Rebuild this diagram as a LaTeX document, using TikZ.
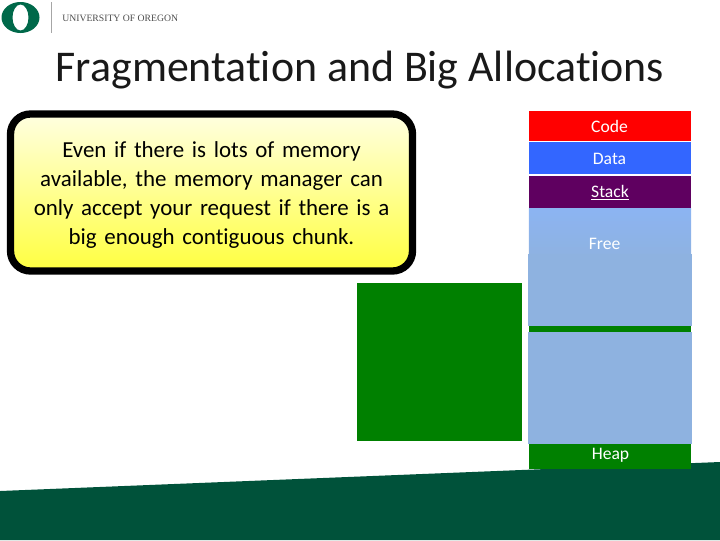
\documentclass[tikz,border=0pt]{standalone}
\usepackage{fontspec}
\setmainfont{Carlito}[Ligatures=NoCommon]
\newfontfamily\logofont{Liberation Serif}
\usepackage{xcolor}
\definecolor{oregongreen}{HTML}{00523A}
\definecolor{logogreen}{HTML}{00694A}
\definecolor{heapgreen}{HTML}{008000}
\definecolor{freeblue}{HTML}{8EB2E0}
\definecolor{freetop}{HTML}{8CB4F2}
\definecolor{codered}{HTML}{FF0000}
\definecolor{datablue}{HTML}{3366FF}
\definecolor{stackpurple}{HTML}{5F0060}
\usetikzlibrary{calc}
\tikzset{
  segment/.style={minimum width=4.05cm, inner sep=0pt, text=white, font=\fontsize{12.5}{14}\selectfont},
  seglabel/.style={text=white, inner sep=0pt, font=\fontsize{12.5}{14}\selectfont},
  freebox/.style={fill=freeblue, minimum width=4.1cm, inner sep=0pt},
}

\begin{document}
\begin{tikzpicture}[x=0.025cm, y=-0.025cm]
  \useasboundingbox (0,0) rectangle (720,540);
  % ------- logo -------
  \fill[logogreen, even odd rule] (20.5,17.5) ellipse (19 and 15.5) (20.5,17.5) ellipse (8 and 13);
  \draw[black!35, line width=0.5pt] (51.5,2) -- (51.5,33);
  \node[anchor=west, inner sep=0pt, text=black!70, font=\logofont\fontsize{6.9}{8}\selectfont] (logotext) at (62,18) {UNIVERSITY OF OREGON};
  % ------- title -------
  \node[inner sep=0pt, font=\fontsize{31.2}{34}\selectfont, text=black!90] (title) at (360,70) {Fragmentation and Big Allocations};
  % ------- bottom band -------
  \fill[oregongreen] (0,491) -- (720,462) -- (720,540) -- (0,540) -- cycle;
  % ------- callout -------
  \draw[black, line width=5.2pt, rounded corners=0.5cm, top color=yellow!12, bottom color=yellow!75] (10.5,114) rectangle (412.5,271);
  \node[align=center, inner sep=0pt, text width=9.8cm, font=\fontsize{16.3}{20.6}\selectfont] (callout) at (211.5,195)
    {Even if there is lots of memory\\ available, the memory manager can\\ only accept your request if there is a\\ big enough contiguous chunk.};
  % ------- requested chunk -------
  \node[fill=heapgreen, inner sep=0pt, minimum width=4.125cm, minimum height=3.95cm] (chunk) at (439.5,362) {};
  % ------- memory layout -------
  \node[segment, fill=codered, minimum height=0.75cm] (code) at (610,126) {};
  \node[seglabel] (codelabel) at (609.5,126.5) {Code};
  \node[segment, fill=datablue, minimum height=0.8cm] (data) at (610,158) {};
  \node[seglabel] (datalabel) at (609.5,159) {Data};
  \node[segment, fill=stackpurple, minimum height=0.8cm] (stack) at (610,192) {};
  \node[seglabel] (stacklabel) at (610,192.5) {\underline{Stack}};
  \node[segment, top color=freetop, bottom color=freeblue!90!freetop, minimum height=1.15cm] (free) at (610,231) {};
  \node[seglabel] (freelabel) at (604.5,244) {Free};
  \node[segment, fill=heapgreen, minimum height=3.575cm] (heap) at (610,397.5) {};
  \node[freebox, minimum height=1.8cm] (hole1) at (610,290) {};
  \node[freebox, minimum height=2.8cm] (hole2) at (610,388) {};
  \node[seglabel] (heaplabel) at (610.5,455) {Heap};
\end{tikzpicture}
\end{document}
